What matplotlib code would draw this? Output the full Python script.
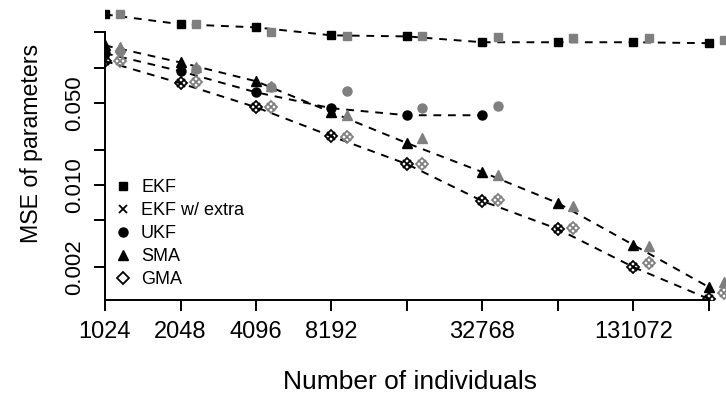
import numpy as np
import matplotlib.pyplot as plt
from matplotlib.lines import Line2D
import matplotlib.ticker as mticker

plt.rcParams['font.family'] = ['Liberation Sans', 'DejaVu Sans']

# data
n_ind = [1024, 2048, 4096, 8192, 16384, 32768, 65536, 131072, 262144]
ekf = [0.285, 0.235, 0.221, 0.189, 0.185, 0.165, 0.165, 0.165, 0.162]
ekf_gray = [0.285, 0.235, 0.200, 0.185, 0.185, 0.182, 0.178, 0.178, 0.171]
ukf = [0.133, 0.0934, 0.0618, 0.0452, 0.0394, 0.0394]
ukf_gray = [0.140, 0.098, 0.068, 0.0631, 0.0452, 0.047]
sma = [0.155, 0.111, 0.0768, 0.0418, 0.0228, 0.0129, 0.00703, 0.00309, 0.00135]
sma_gray = [0.149, 0.101, 0.0696, 0.0394, 0.0251, 0.0122, 0.00663, 0.00303, 0.00149]
gma = [0.114, 0.0738, 0.0461, 0.0261, 0.0151, 0.00731, 0.00422, 0.00200, 0.00107]
gma_gray = [0.114, 0.0753, 0.0461, 0.0256, 0.0151, 0.00745, 0.00431, 0.00217, 0.00120]
ekf_extra = [0.114, 0.0738, 0.0461, 0.0261, 0.0151, 0.00731, 0.00422, 0.00200, 0.00107]

x_labels = {1024: '1024', 2048: '2048', 4096: '4096', 8192: '8192',
            32768: '32768', 131072: '131072'}
y_ticks = [0.002, 0.005, 0.01, 0.02, 0.05, 0.1, 0.2]
y_labels = {0.002: '0.002', 0.01: '0.010', 0.05: '0.050'}

gray = '#7f7f7f'
shift = 2 ** 0.2  # gray points drawn slightly to the right

fig = plt.figure(figsize=(7.26, 3.94), dpi=100)
ax = fig.add_axes([105 / 726, 94 / 394, 621 / 726, 300 / 394])
ax.set_xscale('log', base=2)
ax.set_yscale('log')
ax.set_xlim(1024, 2 ** (10 + 621 / 75.5))
ax.set_ylim(0.00105, 0.378)

x = np.array(n_ind, dtype=float)
nu = len(ukf)

# dashed lines through black points
for vals, xs in [(ekf, x), (ukf, x[:nu]), (sma, x), (gma, x)]:
    ax.plot(xs, vals, ls=(0, (4, 3.5)), color='black', lw=1.4, zorder=1)

# gray points
ax.plot(x * shift, ekf_gray, 's', color=gray, ms=6, ls='none')
ax.plot(x[:nu] * shift, ukf_gray, 'o', color=gray, ms=6.5, ls='none')
ax.plot(x * shift, sma_gray, '^', color=gray, ms=7.5, ls='none')
ax.plot(x * shift, gma_gray, 'D', mfc='none', mec=gray, ms=5.8, mew=1.3, ls='none')
ax.plot(x * shift, gma_gray, 'x', color=gray, ms=6.3, mew=1.3, ls='none')

# black points
ax.plot(x, ekf, 's', color='black', ms=6, ls='none')
ax.plot(x[:nu], ukf, 'o', color='black', ms=6.5, ls='none')
ax.plot(x, sma, '^', color='black', ms=7.5, ls='none')
ax.plot(x, gma, 'D', mfc='none', mec='black', ms=5.8, mew=1.3, ls='none')
ax.plot(x, ekf_extra, 'x', color='black', ms=6.3, mew=1.3, ls='none')

# axes in base-R style
for s in ['top', 'right']:
    ax.spines[s].set_visible(False)
ax.spines['left'].set_linewidth(1.4)
ax.spines['bottom'].set_linewidth(1.4)
ax.spines['left'].set_bounds(0.00105, 0.2)
ax.spines['bottom'].set_bounds(1024, 262144)

ax.xaxis.set_major_locator(mticker.FixedLocator(n_ind))
ax.xaxis.set_major_formatter(mticker.FixedFormatter([x_labels.get(v, '') for v in n_ind]))
ax.xaxis.set_minor_locator(mticker.NullLocator())
ax.yaxis.set_major_locator(mticker.FixedLocator(y_ticks))
ax.yaxis.set_major_formatter(mticker.FixedFormatter([y_labels.get(v, '') for v in y_ticks]))
ax.yaxis.set_minor_locator(mticker.NullLocator())
ax.tick_params(axis='both', length=8, width=1.4, direction='out')
ax.tick_params(axis='x', pad=7, labelsize=17)
ax.tick_params(axis='y', pad=6, labelsize=16, labelrotation=90)
for lab in ax.get_yticklabels():
    lab.set_va('center')

ax.set_xlabel('Number of individuals', fontsize=19)
ax.xaxis.set_label_coords((410 - 105) / 621, (300 - 382) / 300)
ax.xaxis.label.set_va('center')
ax.set_ylabel('MSE of parameters', fontsize=16.7)
ax.yaxis.set_label_coords((32 - 105) / 621, (300 - 143) / 300)
ax.yaxis.label.set_va('center')

handles = [
    Line2D([], [], marker='s', color='black', ls='none', ms=6),
    Line2D([], [], marker='x', color='black', ls='none', ms=6.3, mew=1.3),
    Line2D([], [], marker='o', color='black', ls='none', ms=6.5),
    Line2D([], [], marker='^', color='black', ls='none', ms=7.5),
    Line2D([], [], marker='D', mfc='none', mec='black', ls='none', ms=5.8, mew=1.3),
]
ax.legend(handles, ['EKF', 'EKF w/ extra', 'UKF', 'SMA', 'GMA'],
          loc='upper left', bbox_to_anchor=((114 - 105) / 621, (300 - 179) / 300),
          frameon=False, fontsize=13, handlelength=1.0, handletextpad=0.5,
          labelspacing=0.33, borderpad=0, borderaxespad=0)

fig.savefig('out.png', dpi=100)
